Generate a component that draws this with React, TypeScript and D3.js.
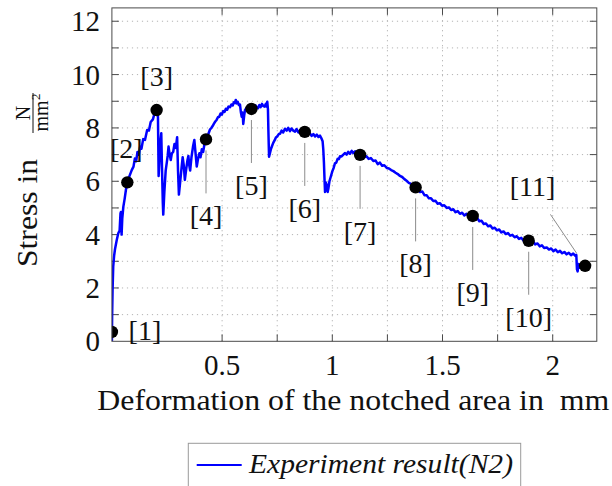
import React from 'react';
import * as d3 from 'd3';

const W = 612;
const H = 486;

// Measured stress–deformation curve, [deformation (mm), stress (N/mm²)]
const experimentN2: [number, number][] = [
  [0.000, 0.00], [0.001, 0.90], [0.003, 1.90], [0.006, 2.80], [0.010, 3.20], [0.014, 3.45],
  [0.022, 3.80], [0.029, 4.05], [0.035, 4.15], [0.039, 4.80], [0.041, 4.85], [0.044, 4.00],
  [0.047, 4.60], [0.052, 5.05], [0.058, 5.35], [0.064, 5.70], [0.070, 5.96], [0.080, 6.20],
  [0.090, 6.42], [0.098, 6.55], [0.104, 6.85], [0.110, 6.75], [0.116, 7.10], [0.122, 7.00],
  [0.128, 7.30], [0.134, 7.22], [0.142, 7.58], [0.150, 7.55], [0.160, 7.92], [0.168, 7.90],
  [0.176, 8.22], [0.186, 8.32], [0.194, 8.56], [0.203, 8.67], [0.206, 8.75], [0.209, 8.40],
  [0.212, 6.20], [0.215, 6.70], [0.219, 7.40], [0.224, 7.80], [0.227, 6.60], [0.231, 5.20],
  [0.233, 4.75], [0.238, 5.60], [0.244, 6.40], [0.249, 6.70], [0.253, 6.95], [0.257, 7.30],
  [0.262, 7.00], [0.267, 6.80], [0.272, 7.05], [0.278, 7.10], [0.284, 7.40], [0.290, 7.25],
  [0.296, 7.65], [0.300, 6.40], [0.304, 5.50], [0.310, 6.00], [0.316, 6.50], [0.321, 6.90],
  [0.326, 6.60], [0.331, 6.05], [0.337, 6.45], [0.343, 6.80], [0.347, 6.95], [0.351, 6.60],
  [0.355, 6.40], [0.361, 6.90], [0.368, 7.30], [0.374, 7.55], [0.379, 7.10], [0.385, 6.55],
  [0.391, 6.85], [0.397, 7.05], [0.402, 6.90], [0.408, 7.20], [0.414, 7.10], [0.420, 7.40],
  [0.427, 7.57], [0.432, 7.70], [0.438, 7.78], [0.445, 7.94], [0.451, 8.00], [0.457, 8.07],
  [0.463, 8.16], [0.469, 8.24], [0.475, 8.30], [0.481, 8.40], [0.487, 8.42], [0.493, 8.54],
  [0.499, 8.50], [0.505, 8.63], [0.511, 8.60], [0.517, 8.72], [0.523, 8.68], [0.529, 8.80],
  [0.536, 8.78], [0.542, 8.88], [0.548, 8.84], [0.553, 8.96], [0.558, 8.94], [0.562, 9.05],
  [0.566, 8.92], [0.571, 8.98], [0.576, 8.86], [0.581, 8.88], [0.585, 8.60], [0.589, 8.42],
  [0.593, 8.58], [0.596, 8.15], [0.600, 8.45], [0.604, 8.67], [0.610, 8.74], [0.616, 8.64],
  [0.622, 8.76], [0.628, 8.68], [0.633, 8.72], [0.640, 8.80], [0.646, 8.70], [0.652, 8.84],
  [0.657, 8.78], [0.663, 8.74], [0.669, 8.86], [0.675, 8.78], [0.681, 8.90], [0.687, 8.82],
  [0.693, 8.80], [0.698, 8.90], [0.702, 8.80], [0.705, 8.98], [0.708, 8.70], [0.710, 7.90],
  [0.713, 6.92], [0.717, 7.05], [0.722, 7.22], [0.727, 7.33], [0.732, 7.44], [0.738, 7.53],
  [0.744, 7.64], [0.750, 7.68], [0.757, 7.77], [0.763, 7.78], [0.770, 7.90], [0.777, 7.83],
  [0.785, 7.97], [0.793, 7.90], [0.800, 8.00], [0.808, 7.88], [0.815, 7.98], [0.823, 7.90],
  [0.831, 7.86], [0.838, 7.96], [0.846, 7.83], [0.853, 7.90], [0.860, 7.80], [0.868, 7.90],
  [0.875, 7.85], [0.882, 7.78], [0.890, 7.78], [0.898, 7.80], [0.906, 7.70], [0.914, 7.77],
  [0.922, 7.68], [0.930, 7.75], [0.937, 7.66], [0.944, 7.71], [0.950, 7.62], [0.956, 7.50],
  [0.959, 7.20], [0.962, 6.70], [0.965, 6.00], [0.967, 5.60], [0.971, 5.95], [0.975, 5.85],
  [0.979, 5.60], [0.982, 5.72], [0.987, 6.00], [0.993, 6.17], [1.000, 6.37], [1.006, 6.50],
  [1.012, 6.67], [1.018, 6.70], [1.024, 6.84], [1.030, 6.83], [1.035, 6.94], [1.042, 6.93],
  [1.050, 7.00], [1.058, 7.06], [1.065, 7.00], [1.072, 7.10], [1.080, 7.03], [1.088, 7.14],
  [1.095, 7.06], [1.103, 7.12], [1.110, 7.00], [1.118, 7.06], [1.126, 6.99], [1.135, 7.02],
  [1.145, 6.90], [1.155, 6.94], [1.165, 6.84], [1.175, 6.87], [1.186, 6.76], [1.196, 6.78],
  [1.206, 6.64], [1.216, 6.70], [1.226, 6.58], [1.236, 6.60], [1.247, 6.50], [1.257, 6.48],
  [1.267, 6.42], [1.277, 6.38], [1.287, 6.32], [1.297, 6.27], [1.307, 6.20], [1.317, 6.16],
  [1.327, 6.08], [1.337, 6.02], [1.347, 5.94], [1.357, 5.90], [1.367, 5.82], [1.378, 5.77],
  [1.388, 5.72], [1.398, 5.60], [1.408, 5.62], [1.418, 5.48], [1.428, 5.48], [1.438, 5.36],
  [1.448, 5.36], [1.458, 5.26], [1.468, 5.27], [1.478, 5.16], [1.488, 5.18], [1.498, 5.08],
  [1.508, 5.10], [1.519, 5.00], [1.529, 5.02], [1.539, 4.92], [1.549, 4.95], [1.559, 4.84],
  [1.569, 4.88], [1.579, 4.78], [1.589, 4.82], [1.599, 4.72], [1.609, 4.78], [1.619, 4.68],
  [1.628, 4.74], [1.637, 4.70], [1.647, 4.60], [1.657, 4.62], [1.667, 4.50], [1.677, 4.52],
  [1.687, 4.40], [1.697, 4.42], [1.707, 4.31], [1.717, 4.34], [1.727, 4.23], [1.737, 4.26],
  [1.747, 4.16], [1.757, 4.19], [1.767, 4.08], [1.777, 4.12], [1.787, 4.02], [1.797, 4.06],
  [1.807, 3.96], [1.817, 3.99], [1.827, 3.90], [1.837, 3.94], [1.847, 3.84], [1.857, 3.88],
  [1.867, 3.78], [1.877, 3.83], [1.891, 3.77], [1.901, 3.70], [1.911, 3.74], [1.921, 3.63],
  [1.931, 3.67], [1.941, 3.56], [1.951, 3.60], [1.961, 3.50], [1.973, 3.52], [1.983, 3.44],
  [1.993, 3.48], [2.003, 3.38], [2.013, 3.44], [2.023, 3.34], [2.033, 3.39], [2.043, 3.30],
  [2.053, 3.35], [2.063, 3.26], [2.073, 3.32], [2.083, 3.23], [2.093, 3.29], [2.103, 3.20],
  [2.107, 3.24], [2.110, 2.70], [2.113, 2.62], [2.117, 2.90], [2.122, 2.76], [2.128, 2.90],
  [2.135, 2.80], [2.142, 2.87], [2.147, 2.83],
];

// Marked states along the curve
const markerDeformation = [0, 0.070, 0.203, 0.427, 0.633, 0.875, 1.126, 1.378, 1.637, 1.891, 2.147];
const markerStress = [0.35, 5.96, 8.67, 7.57, 8.71, 7.85, 6.99, 5.77, 4.70, 3.77, 2.83];
const markerLabels = ['[1]', '[2]', '[3]', '[4]', '[5]', '[6]', '[7]', '[8]', '[9]', '[10]', '[11]'];

const xTicks = [0.5, 0.75, 1, 1.25, 1.5, 1.75, 2];
const xTickLabels = [0.5, 1, 1.5, 2];
const yTicks = [1, 2, 3, 4, 5, 6, 7, 8, 9, 10, 11, 12];
const yTickLabels = [0, 2, 4, 6, 8, 10, 12];

const xTitle = 'Deformation of the notched area in\u00a0\u00a0mm';
const yTitle = 'Stress in';
const yUnitNum = 'N';
const yUnitDen = 'mm';
const legendText = 'Experiment result(N2)';

const FONT = '"Liberation Serif", "Times New Roman", "DejaVu Serif", serif';

// Label placement: angle in degrees (0 = right, 90 = up), distance to the label centre,
// and optional pin line radii.
type Pin = { angle: number; dist: number; line?: [number, number] };
const pins: Pin[] = [
  { angle: 0, dist: 33 },
  { angle: 92, dist: 32 },
  { angle: 90, dist: 32 },
  { angle: 270, dist: 78, line: [11, 54] },
  { angle: 270, dist: 78, line: [11, 54] },
  { angle: 270, dist: 78, line: [11, 54] },
  { angle: 270, dist: 78, line: [11, 54] },
  { angle: 270, dist: 78, line: [11, 54] },
  { angle: 270, dist: 78, line: [11, 54] },
  { angle: 270, dist: 78, line: [11, 54] },
  { angle: 124, dist: 94, line: [15, 62] },
];

const txt = { fontFamily: FONT };

export default function App() {
  const left = 111.9;
  const right = 596.8;
  const bottom = 341.3;
  const top = 7.9;

  const x = d3.scaleLinear().domain([0, 2.2]).range([left, right]);
  const y = d3.scaleLinear().domain([0, 12.5]).range([bottom, top]);

  const line = d3
    .line<[number, number]>()
    .x((d) => x(d[0]))
    .y((d) => y(d[1]));

  const tickLen = 7;
  const axisColor = '#4a4a4a';
  const gridColor = '#b4b4b4';

  return (
    <svg width={W} height={H} style={{ position: 'absolute', left: 0, top: 0 }}>
      <defs>
        <clipPath id="plotArea">
          <rect x={left} y={top} width={right - left} height={bottom - top} />
        </clipPath>
      </defs>
      <rect x={0} y={0} width={W} height={H} fill="#fff" />

      {/* grid */}
      <g stroke={gridColor} strokeWidth={1} strokeDasharray="1.2 3.8">
        {xTicks.map((t) => (
          <line key={'gx' + t} x1={x(t)} x2={x(t)} y1={bottom} y2={top} />
        ))}
        {yTicks.map((t) => (
          <line key={'gy' + t} x1={left} x2={right} y1={y(t)} y2={y(t)} />
        ))}
      </g>

      {/* tick marks */}
      <g stroke={axisColor} strokeWidth={1}>
        {xTicks.map((t) => (
          <g key={'tx' + t}>
            <line x1={x(t)} x2={x(t)} y1={bottom} y2={bottom - tickLen} />
            <line x1={x(t)} x2={x(t)} y1={top} y2={top + tickLen} />
          </g>
        ))}
        {yTicks.map((t) => (
          <g key={'ty' + t}>
            <line x1={left} x2={left + tickLen} y1={y(t)} y2={y(t)} />
            <line x1={right} x2={right - tickLen} y1={y(t)} y2={y(t)} />
          </g>
        ))}
      </g>

      {/* curve and markers */}
      <g clipPath="url(#plotArea)">
        <path d={line(experimentN2) ?? ''} fill="none" stroke="#0000ff" strokeWidth={2.5} strokeLinejoin="round" />
        {markerDeformation.map((d, i) => (
          <circle key={'m' + i} cx={x(d)} cy={y(markerStress[i])} r={6.2} fill="#000" />
        ))}
      </g>

      {/* frame */}
      <rect x={left} y={top} width={right - left} height={bottom - top} fill="none" stroke={axisColor} strokeWidth={1} />

      {/* pins and marker labels */}
      {markerLabels.map((lab, i) => {
        const cx = x(markerDeformation[i]);
        const cy = y(markerStress[i]);
        const p = pins[i];
        const a = (p.angle * Math.PI) / 180;
        const ux = Math.cos(a);
        const uy = -Math.sin(a);
        const lx = cx + ux * p.dist;
        const ly = cy + uy * p.dist;
        return (
          <g key={'l' + i}>
            {p.line && (
              <line
                x1={cx + ux * p.line[0]}
                y1={cy + uy * p.line[0]}
                x2={cx + ux * p.line[1]}
                y2={cy + uy * p.line[1]}
                stroke="#8c8c8c"
                strokeWidth={1}
              />
            )}
            <text x={lx} y={ly + 8} textAnchor="middle" fontSize={28} fill="#111" style={txt}>
              {lab}
            </text>
          </g>
        );
      })}

      {/* tick labels */}
      {xTickLabels.map((t) => (
        <text key={'xl' + t} x={x(t)} y={375} textAnchor="middle" fontSize={29} fill="#111" style={txt}>
          {t}
        </text>
      ))}
      {yTickLabels.map((t) => (
        <text key={'yl' + t} x={100} y={y(t) + 10} textAnchor="end" fontSize={29} fill="#111" style={txt}>
          {t}
        </text>
      ))}

      {/* axis titles */}
      <text
        x={(left + right) / 2 - 1}
        y={410}
        textAnchor="middle"
        fontSize={29}
        fill="#111"
        style={txt}
        textLength={512}
        lengthAdjust="spacingAndGlyphs"
      >
        {xTitle}
      </text>
      <g transform="translate(37, 180) rotate(-90)" fill="#111" style={txt}>
        <text x={-87} y={0} fontSize={29} textLength={108} lengthAdjust="spacingAndGlyphs">
          {yTitle}
        </text>
        <text x={67} y={-7} textAnchor="middle" fontSize={20}>
          {yUnitNum}
        </text>
        <line x1={47} x2={87} y1={-4} y2={-4} stroke="#111" strokeWidth={1} />
        <text x={64} y={11} textAnchor="middle" fontSize={20}>
          {yUnitDen}
        </text>
        <text x={80} y={3} fontSize={13}>
          2
        </text>
      </g>

      {/* legend */}
      <rect x={188.3} y={443.3} width={332.4} height={60} fill="#fff" stroke="#9a9a9a" strokeWidth={1} />
      <line x1={196.7} x2={241.7} y1={465} y2={465} stroke="#0000ff" strokeWidth={2} />
      <text
        x={249}
        y={473}
        fontSize={27}
        fontStyle="italic"
        fill="#111"
        style={txt}
        textLength={264}
        lengthAdjust="spacingAndGlyphs"
      >
        {legendText}
      </text>
    </svg>
  );
}
